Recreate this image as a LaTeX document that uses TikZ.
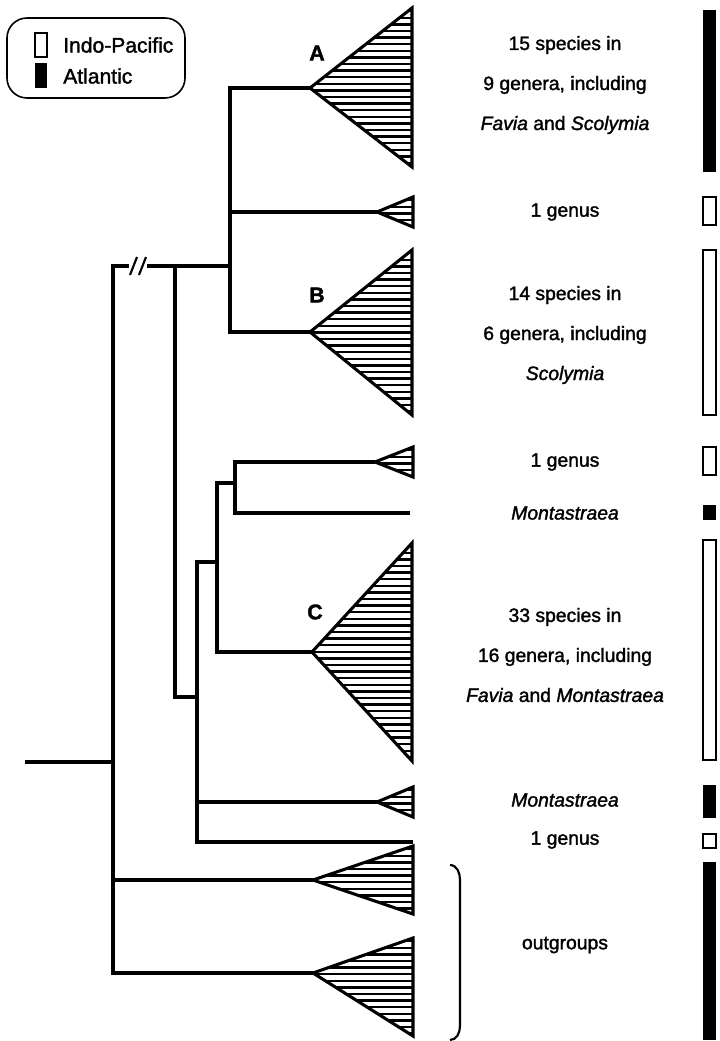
\documentclass[tikz,border=0pt]{standalone}
\usepackage{fontspec}
\setmainfont{Liberation Sans}[FakeBold=1.6]
\usetikzlibrary{positioning}
\tikzset{
  branch/.style={line width=2.8pt},
  cladetri/.style={line width=2.3pt, line join=miter},
  hatch/.style={line width=1.7pt},
  tiplabel/.style={font=\fontsize{14.5}{30}\selectfont, align=center, inner sep=0pt},
  legendlabel/.style={font=\fontsize{15.8}{17}\selectfont, anchor=west, inner sep=0pt},
  cladename/.style={font=\bfseries\fontsize{16}{17}\selectfont, inner sep=0pt},
  openbar/.style={draw, line width=1.5pt, fill=white},
  fullbar/.style={fill=black}
}
% hatched clade: name, apex x, apex y, right x, top y, bottom y
\newcommand{\hatchclade}[6]{%
  \coordinate (#1) at (#2,#3);
  \begin{scope}
    \clip (#2,#3) -- (#4,#5) -- (#4,#6) -- cycle;
    \foreach \k in {0,...,36}
      \draw[hatch] (#2,{#5+3.2+6.6*\k}) -- (#4,{#5+3.2+6.6*\k});
  \end{scope}
  \draw[cladetri] (#2,#3) -- (#4,#5) -- (#4,#6) -- cycle;
}

\begin{document}
\begin{tikzpicture}[x=0.75pt, y=-0.75pt]
  \useasboundingbox (0,0) rectangle (719,1041);

  % legend
  \node[draw, line width=1.2pt, rounded corners=15pt, minimum width=133.5pt, minimum height=60pt] (legend) at (96,58) {};
  \draw[openbar] (35,33) rectangle (47,57);
  \fill (35,63) rectangle (47,88);
  \node[legendlabel] (lgip) at (63,45) {Indo-Pacific};
  \node[legendlabel] (lgat) at (63,76) {Atlantic};

  % clades
  \hatchclade{triA}{310}{88}{412}{8}{167}
  \hatchclade{gen1}{377}{212}{413}{197}{227}
  \hatchclade{triB}{310}{332}{412}{250}{415}
  \hatchclade{gen3}{375}{462}{413}{447}{477}
  \hatchclade{triC}{312}{652}{412}{543}{761}
  \hatchclade{mont2}{377}{802}{413}{787}{817}
  \hatchclade{out1}{313}{880}{413}{846}{914}
  \hatchclade{out2}{313}{973}{413}{938}{1036}
  \node[cladename] (labA) at (317,53) {A};
  \node[cladename] (labB) at (317,295) {B};
  \node[cladename] (labC) at (315,612) {C};

  % internal nodes
  \coordinate (root) at (25,762);
  \coordinate (nR) at (113,762);
  \coordinate (nIn) at (175,266);
  \coordinate (nAB) at (230,266);
  \coordinate (nC0) at (197,697);
  \coordinate (nC1) at (217,562);
  \coordinate (nC2) at (235,483);
  \coordinate (mont1) at (410,513);
  \coordinate (gen4) at (413,842);

  % branches
  \draw[branch] (root) -- (nR);
  \draw[branch] (nR) |- (nIn);
  \draw[branch] (nR) |- (out1);
  \draw[branch] (nR) |- (out2);
  \draw[branch] (nIn) -- (nAB);
  \draw[branch] (nIn) |- (nC0);
  \draw[branch] (nAB) |- (triA);
  \draw[branch] (nAB) |- (gen1);
  \draw[branch] (nAB) |- (triB);
  \draw[branch] (nC0) |- (nC1);
  \draw[branch] (nC0) |- (mont2);
  \draw[branch] (nC0) |- (gen4);
  \draw[branch] (nC1) |- (nC2);
  \draw[branch] (nC1) |- (triC);
  \draw[branch] (nC2) |- (gen3);
  \draw[branch] (nC2) |- (mont1);
  \fill[white] (129,262) rectangle (147,270);
  \draw[line width=1.6pt] (130,275) -- (137,257) (139,275) -- (146,257);

  % tip labels
  \node[tiplabel] (txA) at (565,85) {15 species in\\9 genera, including\\\textit{Favia} and \textit{Scolymia}};
  \node[tiplabel] (txg1) at (565,212) {1 genus};
  \node[tiplabel] (txB) at (565,335) {14 species in\\6 genera, including\\\textit{Scolymia}};
  \node[tiplabel] (txg3) at (565,462) {1 genus};
  \node[tiplabel] (txm1) at (565,513) {\textit{Montastraea}};
  \node[tiplabel] (txC) at (565,655) {33 species in\\16 genera, including\\\textit{Favia} and \textit{Montastraea}};
  \node[tiplabel] (txm2) at (565,800) {\textit{Montastraea}};
  \node[tiplabel] (txg4) at (565,840) {1 genus};
  \node[tiplabel] (txout) at (565,945) {outgroups};
  \draw[line width=1.6pt] (450,865) to[out=0, in=90] (460,880) -- (460,1026) to[out=-90, in=0] (450,1040);

  % distribution bars
  \fill (703,10) rectangle (716,172);
  \draw[openbar] (703,197) rectangle (716,225);
  \draw[openbar] (703,250) rectangle (716,415);
  \draw[openbar] (703,447) rectangle (716,475);
  \fill (703,505) rectangle (716,520);
  \draw[openbar] (703,540) rectangle (716,760);
  \fill (703,785) rectangle (716,818);
  \draw[openbar] (703,834) rectangle (716,848);
  \fill (703,862) rectangle (716,1040);
\end{tikzpicture}
\end{document}
